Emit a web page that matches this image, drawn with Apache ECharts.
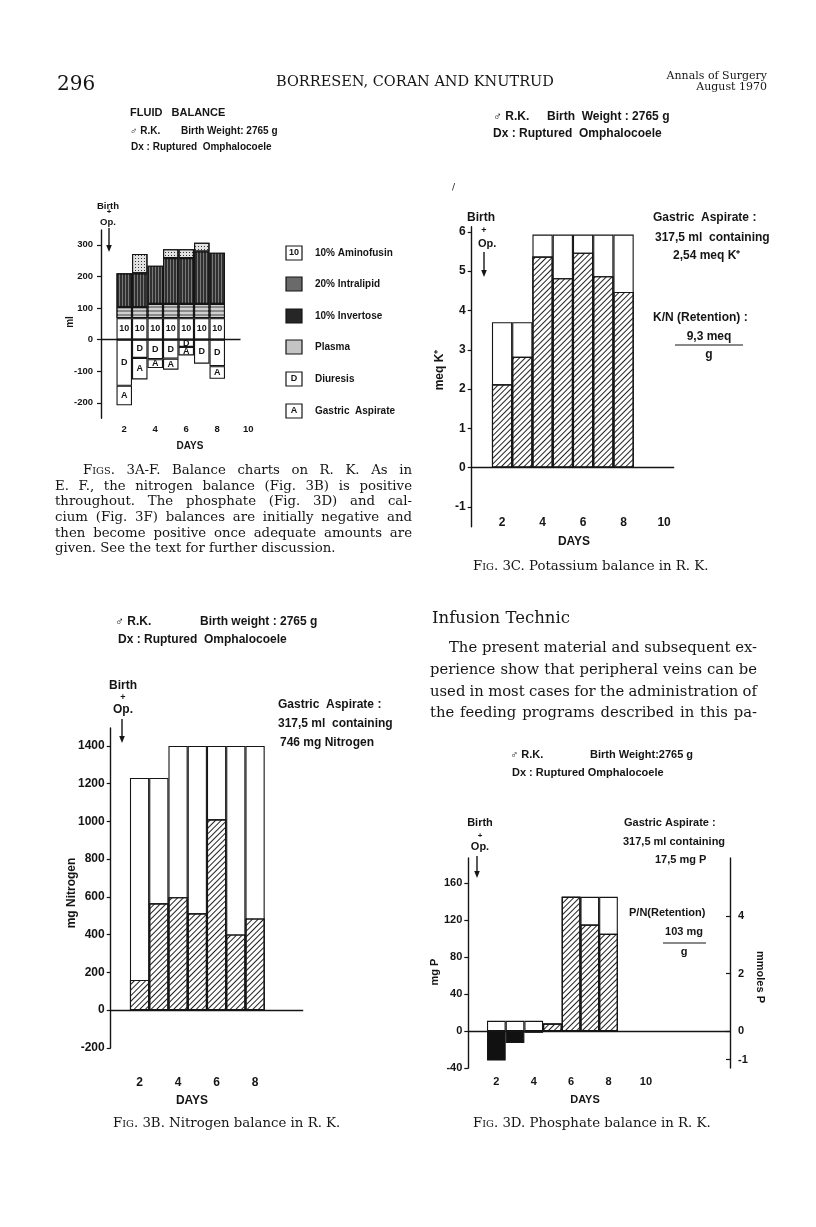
<!DOCTYPE html>
<html>
<head>
<meta charset="utf-8">
<title>Balance charts on R. K.</title>
<script src="https://cdn.jsdelivr.net/npm/echarts@6/dist/echarts.min.js"></script>
<style>
  html, body { margin: 0; padding: 0; background: #fff; }
  #page { width: 816px; height: 1227px; }
</style>
</head>
<body>
<div id="page"></div>
<script>
// days of the balance study
const days = ['2', '3', '4', '5', '6', '7', '8']
const dayAxis = ['1', '2', '3', '4', '5', '6', '7', '8', '9', '10']
const dayAxisD = ['1', '2', '3', '4', '5', '6', '7', '8', '9', '10', '11', '12', '13', '14']
const dayTicks = ['2', '4', '6', '8', '10']
const dayTicksB = ['2', '4', '6', '8']

// Fig 3A fluid balance, ml (intake stacked up, output stacked down)
const aminofusin = [68, 68, 68, 68, 68, 68, 68]
const intralipid = [35, 35, 45, 45, 45, 45, 45]
const invertose = [107, 107, 121, 145, 145, 166, 162]
const plasma = [null, 61, null, 28, 28, 28, null]
const diuresis = [-146, -58, -62, -60, -23, -76, -84]
const aspirate = [-62, -68, -28, -35, -27, null, -40]
const ticksA = [-200, -100, 0, 100, 200, 300]

// Fig 3C potassium, meq K+
const kIntake = [3.7, 3.7, 5.93, 5.93, 5.93, 5.93, 5.93]
const kRetention = [2.12, 2.82, 5.37, 4.82, 5.47, 4.87, 4.47]
const ticksC = [-1, 0, 1, 2, 3, 4, 5, 6]

// Fig 3B nitrogen, mg
const nIntake = [1230, 1230, 1400, 1400, 1400, 1400, 1400]
const nRetention = [160, 566, 598, 513, 1011, 401, 486]
const ticksB = [-200, 0, 200, 400, 600, 800, 1000, 1200, 1400]

// Fig 3D phosphate, mg P
const pIntake = [11, 11, 11, 8, 145, 145, 145]
const pRetention = [-32, -13, -2, 8, 145, 115, 105]
const ticksD = [-40, 0, 40, 80, 120, 160]
const ticksDmmol = [-1, 0, 2, 4]

// caption and body text lines
const captionA = [
  'F{sc|IGS}. 3A-F. Balance charts on R. K. As in',
  'E. F., the nitrogen balance (Fig. 3B) is positive',
  'throughout. The phosphate (Fig. 3D) and cal-',
  'cium (Fig. 3F) balances are initially negative and',
  'then become positive once adequate amounts are',
  'given. See the text for further discussion.'
]
const bodyText = [
  'The present material and subsequent ex-',
  'perience show that peripheral veins can be',
  'used in most cases for the administration of',
  'the feeding programs described in this pa-'
]

const SANS = 'Liberation Sans'
const SERIF = 'DejaVu Serif'
const INK = '#151515'

const pairs = arr => days.map((d, i) => [d, arr[i]])

// diagonal hatching for retained amounts
const hatch = { symbol: 'rect', symbolSize: 1, dashArrayX: [1, 0], dashArrayY: [1, 2.2], rotation: -Math.PI / 4, color: '#222' }
const vStreak = { symbol: 'rect', symbolSize: 1, dashArrayX: [1, 0], dashArrayY: [1, 2], rotation: Math.PI / 2, color: 'rgba(255,255,255,0.35)' }
const hStreak = { symbol: 'rect', symbolSize: 1, dashArrayX: [1, 0], dashArrayY: [2, 2], rotation: 0, color: 'rgba(255,255,255,0.6)' }
const stipple = { symbol: 'rect', symbolSize: 1, dashArrayX: [1, 1.5], dashArrayY: [1, 1.5], rotation: 0, color: '#333' }

function bar (gi, yi, arr, style, extra) {
  return Object.assign({
    type: 'bar',
    xAxisIndex: gi,
    yAxisIndex: yi,
    data: pairs(arr),
    barCategoryGap: '0%',
    barGap: '-100%',
    animation: false,
    silent: true,
    itemStyle: Object.assign({ color: '#fff', borderColor: INK, borderWidth: 1.1 }, style)
  }, extra || {})
}

function zeroLine (xi, yi, from, to) {
  const line = [{ yAxis: 0 }]
  if (from) line[0] = [{ coord: [from, 0] }, { coord: [to, 0] }]
  return {
    type: 'line', xAxisIndex: xi, yAxisIndex: yi, data: [], silent: true, animation: false,
    markLine: {
      symbol: 'none', silent: true, label: { show: false },
      lineStyle: { color: INK, width: 1.3, type: 'solid' },
      data: line
    }
  }
}

function xAxisFor (gi, cats, labels, margin, size) {
  return {
    type: 'category', gridIndex: gi, data: cats, boundaryGap: true,
    axisLine: { show: false }, axisTick: { show: false }, splitLine: { show: false },
    axisLabel: {
      interval: (i, v) => labels.indexOf(v) >= 0,
      margin: margin, fontSize: size, fontWeight: 'bold', color: INK, fontFamily: SANS
    }
  }
}

function yAxisFor (gi, min, max, ticks, size, margin, extra) {
  return Object.assign({
    type: 'value', gridIndex: gi, min: min, max: max,
    axisLine: { show: true, onZero: false, lineStyle: { color: INK, width: 1.4 } },
    axisTick: { show: true, length: 4, customValues: ticks, lineStyle: { color: INK, width: 1.2 } },
    axisLabel: {
      customValues: ticks, formatter: v => String(v),
      margin: margin, fontSize: size, fontWeight: 'bold', color: INK, fontFamily: SANS
    },
    splitLine: { show: false }
  }, extra || {})
}

function txt (x, y, str, o) {
  o = o || {}
  const style = {
    text: str, fill: INK,
    fontFamily: o.font || SANS, fontSize: o.size || 11, fontWeight: o.w || 'bold',
    align: o.align || 'left', verticalAlign: 'middle'
  }
  if (o.rich) style.rich = o.rich
  return { type: 'text', x: x, y: y, rotation: o.rot || 0, z: 20, silent: true, style: style }
}

function arrow (x, y1, y2) {
  return [
    { type: 'line', silent: true, shape: { x1: x, y1: y1, x2: x, y2: y2 - 5 }, style: { stroke: INK, lineWidth: 1.4 } },
    { type: 'polygon', silent: true, shape: { points: [[x - 2.8, y2 - 7], [x + 2.8, y2 - 7], [x, y2]] }, style: { fill: INK } }
  ]
}

function rule (x1, x2, y) {
  return { type: 'line', silent: true, shape: { x1: x1, y1: y, x2: x2, y2: y }, style: { stroke: INK, lineWidth: 1.2 } }
}

function legendBox (y, fill, label) {
  const els = [{ type: 'rect', silent: true, shape: { x: 286, y: y - 7, width: 16, height: 14 }, style: { fill: fill, stroke: INK, lineWidth: 1.2 } }]
  if (label) els.push(txt(294, y, label, { size: 9, align: 'center' }))
  return els
}

const smallCaps = size => ({ sc: { fontFamily: SERIF, fontSize: size * 0.74, fill: INK } })
const serif = (x, y, str, size, extra) =>
  txt(x, y, str, Object.assign({ font: SERIF, w: 'normal', size: size, rich: smallCaps(size) }, extra || {}))

// justified setting of a printed line: words spread between x0 and x1
const measureCtx = document.createElement('canvas').getContext('2d')
function wordWidth (word, size) {
  let w = 0
  word.split(/(\{sc\|[^}]*\})/).forEach(seg => {
    if (!seg) return
    const m = seg.match(/^\{sc\|([^}]*)\}$/)
    measureCtx.font = (m ? size * 0.74 : size) + 'px "' + SERIF + '"'
    w += measureCtx.measureText(m ? m[1] : seg).width
  })
  return w
}
function justified (x0, x1, y, line, size) {
  const words = line.split(' ')
  const widths = words.map(w => wordWidth(w, size))
  const gap = (x1 - x0 - widths.reduce((a, b) => a + b, 0)) / (words.length - 1)
  let x = x0
  return words.map((w, i) => {
    const el = serif(x, y, w, size)
    x += widths[i] + gap
    return el
  })
}

const captionY = [471, 487, 502, 518, 534, 549]
const bodyY = [648, 670, 692, 713]

const graphics = [].concat(
  // running head
  serif(57, 85, '296', 20),
  serif(276, 82, 'BORRESEN, CORAN AND KNUTRUD', 14.5),
  serif(767, 76, 'Annals of Surgery', 11, { align: 'right' }),
  serif(767, 87, 'August 1970', 11, { align: 'right' }),

  // 3A
  txt(130, 113, 'FLUID   BALANCE', { size: 11 }),
  txt(130, 131, '\u2642 R.K.', { size: 10 }),
  txt(181, 131, 'Birth Weight: 2765 g', { size: 10 }),
  txt(131, 147, 'Dx : Ruptured  Omphalocoele', { size: 10 }),
  txt(108, 206, 'Birth', { size: 9.5, align: 'center' }),
  txt(109, 212, '+', { size: 8, align: 'center' }),
  txt(108, 222, 'Op.', { size: 9.5, align: 'center' }),
  arrow(109, 228, 252),
  txt(70, 322, 'ml', { size: 10, rot: Math.PI / 2, align: 'center' }),
  txt(190, 446, 'DAYS', { size: 10, align: 'center' }),
  legendBox(253, '#fff', '10'), txt(315, 253, '10% Aminofusin', { size: 10 }),
  legendBox(284, '#6a6a6a'), txt(315, 284, '20% Intralipid', { size: 10 }),
  legendBox(316, '#262626'), txt(315, 316, '10% Invertose', { size: 10 }),
  legendBox(347, '#c4c4c4'), txt(315, 347, 'Plasma', { size: 10 }),
  legendBox(379, '#fff', 'D'), txt(315, 379, 'Diuresis', { size: 10 }),
  legendBox(411, '#fff', 'A'), txt(315, 411, 'Gastric  Aspirate', { size: 10 }),

  // caption 3A-F, justified except its last line
  ...captionA.slice(0, 5).map((l, i) => justified(i ? 55 : 83, 412, captionY[i], l, 13.3)),
  serif(55, captionY[5], captionA[5], 13.3),

  // 3C
  txt(493, 117, '\u2642 R.K.', { size: 12 }),
  txt(547, 117, 'Birth  Weight : 2765 g', { size: 12 }),
  txt(493, 134, 'Dx : Ruptured  Omphalocoele', { size: 12 }),
  serif(452, 188, '/', 9),
  txt(467, 218, 'Birth', { size: 12 }),
  txt(484, 231, '+', { size: 9, align: 'center' }),
  txt(478, 244, 'Op.', { size: 11 }),
  arrow(484, 252, 277),
  txt(653, 218, 'Gastric  Aspirate :', { size: 12 }),
  txt(655, 238, '317,5 ml  containing', { size: 12 }),
  txt(673, 256, '2,54 meq K\u207A', { size: 12 }),
  txt(653, 318, 'K/N (Retention) :', { size: 12 }),
  txt(709, 337, '9,3 meq', { size: 12, align: 'center' }),
  rule(675, 743, 345),
  txt(709, 355, 'g', { size: 12, align: 'center' }),
  txt(440, 370, 'meq K\u207A', { size: 12, rot: Math.PI / 2, align: 'center' }),
  txt(574, 542, 'DAYS', { size: 12, align: 'center' }),
  serif(473, 567, 'F{sc|IG}. 3C. Potassium balance in R. K.', 13.3),

  // 3B
  txt(115, 622, '\u2642 R.K.', { size: 12 }),
  txt(200, 622, 'Birth weight : 2765 g', { size: 12 }),
  txt(118, 640, 'Dx : Ruptured  Omphalocoele', { size: 12 }),
  txt(123, 686, 'Birth', { size: 12, align: 'center' }),
  txt(123, 698, '+', { size: 9, align: 'center' }),
  txt(123, 710, 'Op.', { size: 12, align: 'center' }),
  arrow(122, 719, 743),
  txt(278, 705, 'Gastric  Aspirate :', { size: 12 }),
  txt(278, 724, '317,5 ml  containing', { size: 12 }),
  txt(280, 743, '746 mg Nitrogen', { size: 12 }),
  txt(72, 893, 'mg Nitrogen', { size: 12, rot: Math.PI / 2, align: 'center' }),
  txt(192, 1101, 'DAYS', { size: 12, align: 'center' }),
  serif(113, 1124, 'F{sc|IG}. 3B. Nitrogen balance in R. K.', 13.3),

  // body text, right column
  serif(432, 619, 'Infusion Technic', 16.5, { w: 500 }),
  ...bodyText.map((l, i) => justified(i ? 430 : 449, 757, bodyY[i], l, 14.8)),

  // 3D
  txt(510, 755, '\u2642 R.K.', { size: 11 }),
  txt(590, 755, 'Birth Weight:2765 g', { size: 11 }),
  txt(512, 773, 'Dx : Ruptured Omphalocoele', { size: 11 }),
  txt(480, 823, 'Birth', { size: 11, align: 'center' }),
  txt(480, 836, '+', { size: 8, align: 'center' }),
  txt(480, 847, 'Op.', { size: 11, align: 'center' }),
  arrow(477, 856, 878),
  txt(624, 823, 'Gastric Aspirate :', { size: 11 }),
  txt(623, 842, '317,5 ml containing', { size: 11 }),
  txt(655, 860, '17,5 mg P', { size: 11 }),
  txt(629, 913, 'P/N(Retention)', { size: 11 }),
  txt(684, 932, '103 mg', { size: 11, align: 'center' }),
  rule(663, 706, 943),
  txt(684, 952, 'g', { size: 11, align: 'center' }),
  txt(435, 972, 'mg P', { size: 11, rot: Math.PI / 2, align: 'center' }),
  txt(760, 977, 'mmoles P', { size: 11, rot: -Math.PI / 2, align: 'center' }),
  txt(585, 1100, 'DAYS', { size: 11, align: 'center' }),
  serif(473, 1124, 'F{sc|IG}. 3D. Phosphate balance in R. K.', 13.3)
).flat()

const inLabel = (text) => ({
  show: true, position: 'inside', color: INK, fontWeight: 'bold', fontSize: 9, fontFamily: SANS, formatter: text
})

const option = {
  backgroundColor: '#fff',
  animation: false,
  grid: [
    { left: 101, top: 230, width: 155, height: 188.3 },
    { left: 471.7, top: 226.7, width: 202.5, height: 300 },
    { left: 110.7, top: 728, width: 192.5, height: 320 },
    { left: 468.3, top: 858, width: 261.7, height: 210 }
  ],
  xAxis: [
    xAxisFor(0, dayAxis, dayTicks, 6, 9.5),
    xAxisFor(1, dayAxis, dayTicks, -10, 12),
    xAxisFor(2, dayAxis, dayTicksB, 29, 12),
    xAxisFor(3, dayAxisD, dayTicks, 8, 11),
    // hidden day scale for fig 3A, whose zero line ends half way into day 10
    { type: 'value', gridIndex: 0, min: 0.5, max: 10.5, show: false }
  ],
  yAxis: [
    yAxisFor(0, -249, 347, ticksA, 9.5, 8),
    yAxisFor(1, -1.5, 6.13, ticksC, 12, 6),
    yAxisFor(2, -201, 1495, ticksB, 12, 6),
    yAxisFor(3, -40, 187, ticksD, 11, 6),
    yAxisFor(3, -40 / 31, 187 / 31, ticksDmmol, 11, 8, {
      position: 'right',
      axisTick: { show: true, inside: true, length: 4, customValues: ticksDmmol, lineStyle: { color: INK, width: 1.2 } }
    })
  ],
  series: [
    // 3A fluid balance
    zeroLine(4, 0, 0.5, 9.5),
    bar(0, 0, aminofusin, {}, { stack: 'fluid', label: inLabel('10') }),
    bar(0, 0, intralipid, { color: '#8a8a8a', decal: hStreak }, { stack: 'fluid' }),
    bar(0, 0, invertose, { color: '#303030', decal: vStreak }, { stack: 'fluid' }),
    bar(0, 0, plasma, { color: '#e2e2e2', decal: stipple }, { stack: 'fluid' }),
    bar(0, 0, diuresis, {}, { stack: 'fluid', label: inLabel('D') }),
    bar(0, 0, aspirate, {}, { stack: 'fluid', label: inLabel('A') }),

    // 3C potassium
    zeroLine(1, 1),
    bar(1, 1, kIntake, {}),
    bar(1, 1, kRetention, { decal: hatch }),

    // 3B nitrogen
    zeroLine(2, 2),
    bar(2, 2, nIntake, {}),
    bar(2, 2, nRetention, { decal: hatch }),

    // 3D phosphate: loss drawn solid black, retention hatched
    zeroLine(3, 3),
    bar(3, 3, pIntake, {}),
    Object.assign(bar(3, 3, pRetention, {}), {
      data: days.map((d, i) => ({
        value: [d, pRetention[i]],
        itemStyle: pRetention[i] < 0 ? { color: '#111' } : { decal: hatch }
      }))
    })
  ],
  graphic: { elements: graphics }
}

const chart = echarts.init(document.getElementById('page'))
chart.setOption(option)
window.addEventListener('resize', () => chart.resize())
</script>
</body>
</html>
